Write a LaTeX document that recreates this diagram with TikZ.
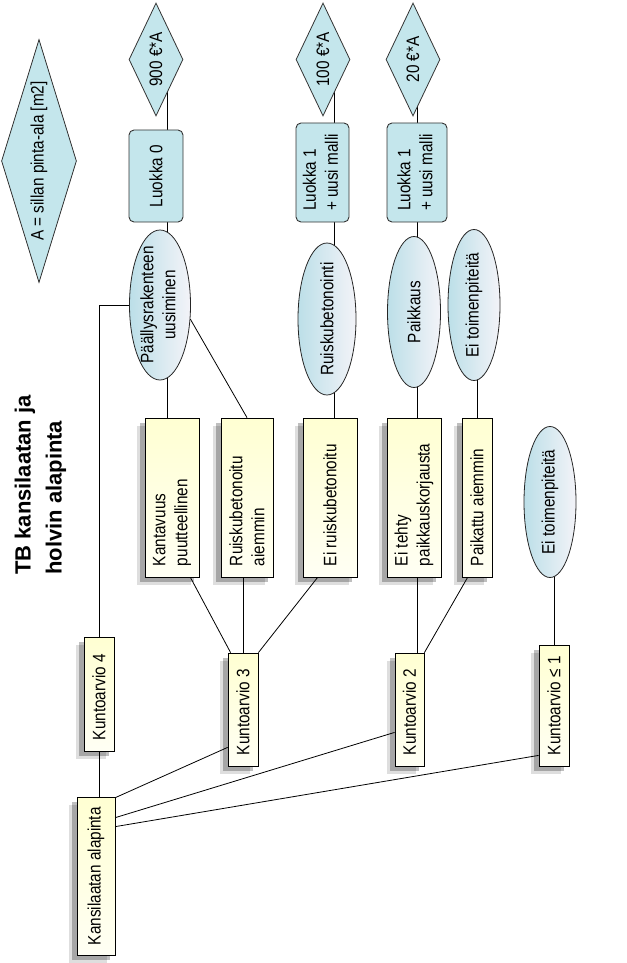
\documentclass[tikz,border=0pt]{standalone}
\usepackage{fontspec}
\setmainfont[FakeStretch=0.85]{Liberation Sans}
\newfontfamily\ttlfont{Liberation Sans}
\usepackage{graphicx}
\usetikzlibrary{shapes.geometric,shadows,backgrounds,calc}
\definecolor{cyfill}{HTML}{C4E6EC}
\definecolor{eleft}{HTML}{BCDFE8}
\definecolor{eright}{HTML}{F3F3F8}
\definecolor{ytop}{HTML}{FFFFD2}
\definecolor{ybot}{HTML}{FFFFF4}
\newcommand\vtx[2]{\rotatebox{90}{\parbox{#1}{\raggedright #2}}}
\newcommand\vcx[1]{\rotatebox{90}{\begin{tabular}{@{}c@{}}#1\end{tabular}}}
\newcommand\vlx[1]{\rotatebox{90}{\begin{tabular}{@{}l@{}}#1\end{tabular}}}
\tikzset{
  every node/.style={font=\fontsize{18pt}{22pt}\selectfont},
  diam/.style={diamond, draw=black!80, fill=cyfill, inner sep=0pt, line width=0.8pt},
  cbox/.style={rectangle, rounded corners=5pt, draw=black!80, fill=cyfill, inner sep=0pt, line width=0.9pt},
  ell/.style={ellipse, draw=black!85, left color=eleft, right color=eright, inner sep=0pt, line width=0.8pt},
  ybox/.style={rectangle, draw=black, top color=ytop, bottom color=ybot, inner sep=0pt, line width=0.8pt,
    general shadow={fill=black, opacity=0.13, shadow xshift=-8pt, shadow yshift=-8pt},
    general shadow={fill=black, opacity=0.25, shadow xshift=-5pt, shadow yshift=-5pt}},
  conn/.style={draw=black, line width=0.8pt}
}
\begin{document}
\begin{tikzpicture}[x=1pt,y=-1pt]
\useasboundingbox (0,0) rectangle (626,963);
% diamonds
\node[diam, minimum width=75pt, minimum height=243pt, label=center:{\rotatebox{90}{A = sillan pinta-ala [m2]}}] (dA) at (39,161) {};
\node[diam, minimum width=54pt, minimum height=113pt, label=center:{\rotatebox{90}{900 €*A}}] (d900) at (156,59.5) {};
\node[diam, minimum width=54pt, minimum height=113pt, label=center:{\rotatebox{90}{100 €*A}}] (d100) at (323,59.5) {};
\node[diam, minimum width=54pt, minimum height=113pt, label=center:{\rotatebox{90}{20 €*A}}] (d20) at (413,59.5) {};
% class boxes
\node[cbox, minimum width=54pt, minimum height=92pt] (l0) at (156,176) {\rotatebox{90}{Luokka 0}};
\node[cbox, minimum width=53pt, minimum height=99pt] (l1a) at (322.5,172.5) {\vlx{Luokka 1\\+ uusi malli}};
\node[cbox, minimum width=60pt, minimum height=99pt] (l1b) at (417,172.5) {\vlx{Luokka 1\\+ uusi malli}};
% ellipses
\node[ell, minimum width=61pt, minimum height=150pt, label=center:{\vcx{Päällysrakenteen\\uusiminen}}] (e1) at (160,305) {};
\node[ell, minimum width=58pt, minimum height=152pt, label=center:{\rotatebox{90}{Ruiskubetonointi}}] (e2) at (327,319) {};
\node[ell, minimum width=53pt, minimum height=151pt, label=center:{\rotatebox{90}{Paikkaus}}] (e3) at (414,312) {};
\node[ell, minimum width=52pt, minimum height=151pt, label=center:{\rotatebox{90}{Ei toimenpiteitä}}] (e4) at (474,305) {};
\node[ell, minimum width=52pt, minimum height=151pt, label=center:{\rotatebox{90}{Ei toimenpiteitä}}] (e5) at (550,502) {};
% yellow boxes
\node[ybox, minimum width=54pt, minimum height=159pt] (b1) at (172,497.5) {\vtx{137pt}{Kantavuus\\puutteellinen}};
\node[ybox, minimum width=52pt, minimum height=159pt] (b2) at (247,497.5) {\vtx{137pt}{Ruiskubetonoitu\\aiemmin}};
\node[ybox, minimum width=54pt, minimum height=159pt] (b3) at (330,497.5) {\vtx{137pt}{Ei ruiskubetonoitu}};
\node[ybox, minimum width=54pt, minimum height=159pt] (b4) at (414,497.5) {\vtx{137pt}{Ei tehty\\paikkauskorjausta}};
\node[ybox, minimum width=30pt, minimum height=159pt] (b5) at (477,497.5) {\vtx{137pt}{Paikattu aiemmin}};
\node[ybox, minimum width=30pt, minimum height=114pt] (k4) at (99,694) {\vtx{92pt}{Kuntoarvio 4}};
\node[ybox, minimum width=30pt, minimum height=113pt] (k3) at (243,709.5) {\vtx{91pt}{Kuntoarvio 3}};
\node[ybox, minimum width=29pt, minimum height=113pt] (k2) at (409.5,709.5) {\vtx{91pt}{Kuntoarvio 2}};
\node[ybox, minimum width=30pt, minimum height=121pt] (k1) at (554,705.5) {\vtx{99pt}{Kuntoarvio ≤ 1}};
\node[ybox, minimum width=38pt, minimum height=158pt] (kal) at (96,876) {\vtx{138pt}{Kansilaatan alapinta}};
% title
\node[font=\ttlfont\bfseries\fontsize{22pt}{31pt}\selectfont] (title) at (40,485) {\vlx{TB kansilaatan ja\\holvin alapinta}};
% connectors
\begin{scope}[on background layer]
\draw[conn] ([xshift=11pt]l0.north) -- ([xshift=11pt]l0.north |- d900.center);
\draw[conn] ([xshift=11pt]l0.south) -- ([xshift=11pt]l0.south |- e1.center);
\draw[conn] ([xshift=-5pt]b1.north) -- ([xshift=-5pt]b1.north |- e1.center);
\draw[conn] (b2.north) -- (e1.-25);
\draw[conn] (k4.north) |- (e1.west);
\draw[conn] (k4.south) -- (k4.south |- kal.north);
\draw[conn] ([yshift=-1pt]kal.north east) -- ([yshift=19pt]k3.south west);
\draw[conn] ([yshift=-21pt]kal.north east) -- ([yshift=34pt]k2.south west);
\draw[conn] ([yshift=-30pt]kal.north east) -- ([yshift=11pt]k1.south west);
\draw[conn] ([xshift=3pt]k3.north west) -- ([xshift=-9pt]b1.south east);
\draw[conn] (k3.north) -- (k3.north |- b2.south);
\draw[conn] (k3.north east) -- ([xshift=15pt]b3.south west);
\draw[conn] ([xshift=4pt]b3.north) -- ([xshift=4pt]b3.north |- e2.center);
\draw[conn] ([xshift=11.5pt]l1a.south) -- ([xshift=11.5pt]l1a.south |- e2.center);
\draw[conn] ([xshift=11.5pt]l1a.north) -- ([xshift=11.5pt]l1a.north |- d100.center);
\draw[conn] ([xshift=7.5pt]k2.north) -- ([xshift=7.5pt]k2.north |- b4.south);
\draw[conn] (k2.north east) -- ([xshift=6pt]b5.south west);
\draw[conn] ([xshift=3pt]b4.north) -- ([xshift=3pt]b4.north |- e3.center);
\draw[conn] (l1b.south) -- (l1b.south |- e3.center);
\draw[conn] (l1b.north) -- (l1b.north |- d20.center);
\draw[conn] (b5.north) -- (b5.north |- e4.center);
\draw[conn] (k1.north) -- (k1.north |- e5.center);
\end{scope}
\end{tikzpicture}
\end{document}
